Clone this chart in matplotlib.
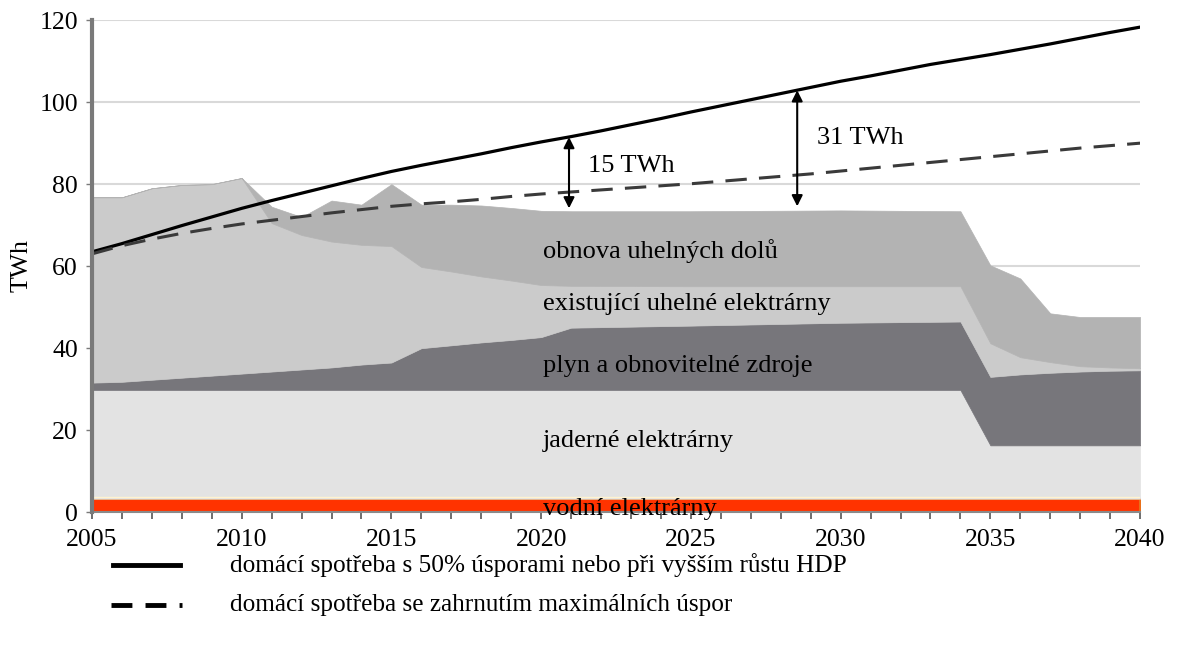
import numpy as np
import matplotlib.pyplot as plt
from matplotlib.lines import Line2D

plt.rcParams['font.family'] = ['Liberation Serif', 'DejaVu Serif']

years = [2005, 2006, 2007, 2008, 2009, 2010, 2011, 2012, 2013, 2014, 2015, 2016, 2017,
         2018, 2019, 2020, 2021, 2025, 2030, 2034, 2035, 2036, 2037, 2038, 2039, 2040]

# upper edge of each stacked layer (TWh)
hydro_top = [3.3] * 26
nuclear_top = [29.8] * 20 + [16.3] * 6
gas_top = [31.6, 31.8, 32.3, 32.8, 33.3, 33.8, 34.3, 34.8, 35.3, 36.0, 36.5, 40.0, 40.7,
           41.4, 42.0, 42.7, 45.0, 45.5, 46.2, 46.5, 33.0, 33.6, 34.0, 34.3, 34.5, 34.6]
coal_top = [76.8, 76.8, 79.0, 79.8, 80.0, 81.5, 70.5, 67.6, 66.0, 65.2, 64.9, 59.8, 58.7,
            57.5, 56.5, 55.4, 55.2, 55.1, 55.1, 55.1, 41.2, 37.8, 36.6, 35.6, 35.3, 35.1]
mines_top = [76.8, 76.8, 79.0, 79.8, 80.0, 81.5, 74.5, 72.0, 76.0, 75.0, 80.0, 75.0, 75.0,
             74.8, 74.2, 73.5, 73.4, 73.4, 73.6, 73.4, 60.2, 57.0, 48.5, 47.6, 47.6, 47.6]

layer_names = ["vodní elektrárny", "jaderné elektrárny", "plyn a obnovitelné zdroje",
               "existující uhelné elektrárny", "obnova uhelných dolů"]

# consumption scenarios, yearly
line_years = list(range(2005, 2041))
high_demand = [63.5, 65.5, 67.7, 69.9, 72.0, 74.1, 76.0, 77.8, 79.6, 81.4, 83.1, 84.6,
               86.0, 87.4, 88.9, 90.3, 91.6, 93.0, 94.5, 96.0, 97.6, 99.1, 100.6, 102.1,
               103.6, 105.1, 106.4, 107.8, 109.2, 110.4, 111.6, 112.9, 114.2, 115.6, 117.0, 118.3]
low_demand = [63.0, 65.0, 66.6, 68.0, 69.2, 70.3, 71.2, 72.1, 73.0, 73.8, 74.6, 75.2,
              75.7, 76.3, 77.0, 77.6, 78.1, 78.6, 79.1, 79.6, 80.1, 80.7, 81.3, 81.9,
              82.5, 83.2, 83.9, 84.6, 85.3, 86.0, 86.7, 87.4, 88.1, 88.8, 89.4, 90.0]
legend_labels = ["domácí spotřeba s 50% úsporami nebo při vyšším růstu HDP",
                 "domácí spotřeba se zahrnutím maximálních úspor"]

# gap arrows: year, top, bottom, label, label height
gaps = [(2020.93, 91.5, 74.1, "15 TWh", 83.0), (2028.55, 102.9, 74.6, "31 TWh", 89.8)]

fig, ax = plt.subplots(figsize=(11.79, 6.5), dpi=100)
fig.subplots_adjust(left=0.078, right=0.967, top=0.969, bottom=0.212)

x = np.array(years)
tops = [np.zeros(len(years)), hydro_top, nuclear_top, gas_top, coal_top, mines_top]
colors = ['#FF3300', '#E3E3E3', '#77767B', '#CBCBCB', '#B3B3B3']
for i in range(5):
    if i == 0:
        ax.fill_between(x, tops[i], tops[i + 1], facecolor=colors[i],
                        edgecolor='#E8701A', linewidth=1.5, zorder=2)
    else:
        ax.fill_between(x, tops[i], tops[i + 1], facecolor=colors[i],
                        edgecolor=colors[i], linewidth=0.5, zorder=2)
# pale strip on top of hydro
ax.plot(x, np.array(hydro_top) + 0.5, color='#FFF3D0', linewidth=1, zorder=3)

ax.plot(line_years, high_demand, color='black', linewidth=2.3, zorder=4)
ax.plot(line_years, low_demand, color='#3a3a3a', linewidth=2.2, dashes=(7, 4), zorder=4)

for gx, gtop, gbot, glab, gy in gaps:
    ax.annotate("", xy=(gx, gbot), xytext=(gx, gtop),
                arrowprops=dict(arrowstyle='<|-|>', color='black', lw=1.5,
                                mutation_scale=16, shrinkA=0, shrinkB=0), zorder=5)
    ax.text(gx + 0.65, gy, glab, fontsize=19, ha='left', va='baseline', zorder=5)

# area labels
label_y = [-0.7, 15.9, 34.2, 49.4, 62.1]
for name, ly in zip(layer_names, label_y):
    ax.text(2020.05, ly, name, fontsize=19, ha='left', va='baseline', zorder=5,
            clip_on=False)

ax.set_xlim(2005, 2040)
ax.set_ylim(0, 120)
ax.set_yticks(np.arange(0, 121, 20))
ax.set_xticks(np.arange(2005, 2041, 5))
ax.set_xticks(np.arange(2005, 2041, 1), minor=True)
ax.grid(axis='y', color='#D9D9D9', linewidth=1.5, zorder=0)
ax.set_axisbelow(True)

for s in ['top', 'right']:
    ax.spines[s].set_visible(False)
ax.spines['left'].set_color('#7A7A7A')
ax.spines['left'].set_linewidth(3)
ax.spines['left'].set_zorder(6)
ax.spines['bottom'].set_color('#8A8A8A')
ax.spines['bottom'].set_linewidth(1.5)

ax.tick_params(axis='y', length=4, width=1, color='#7A7A7A', pad=6, labelsize=18.5)
ax.tick_params(axis='x', which='both', length=5, width=1.2, color='#555555',
               pad=7, labelsize=18.5, direction='out')

fig.text(22 / 1179, 1 - 266 / 650, "TWh", rotation=90, ha='center', va='center',
         fontsize=18.5)

# legend drawn below the plot
fig.add_artist(Line2D([113 / 1179, 180 / 1179], [1 - 565 / 650] * 2,
                      transform=fig.transFigure, color='black', linewidth=3.5))
fig.add_artist(Line2D([111 / 1179, 182 / 1179], [1 - 605 / 650] * 2,
                      transform=fig.transFigure, color='black', linewidth=3.5,
                      dashes=(4.3, 2.7, 4.3, 2.7, 0.8, 5)))
fig.text(230 / 1179, 1 - 565 / 650, legend_labels[0], fontsize=18.2, va='center')
fig.text(230 / 1179, 1 - 605 / 650, legend_labels[1], fontsize=18.2, va='center')

fig.savefig("out.png", dpi=100)
